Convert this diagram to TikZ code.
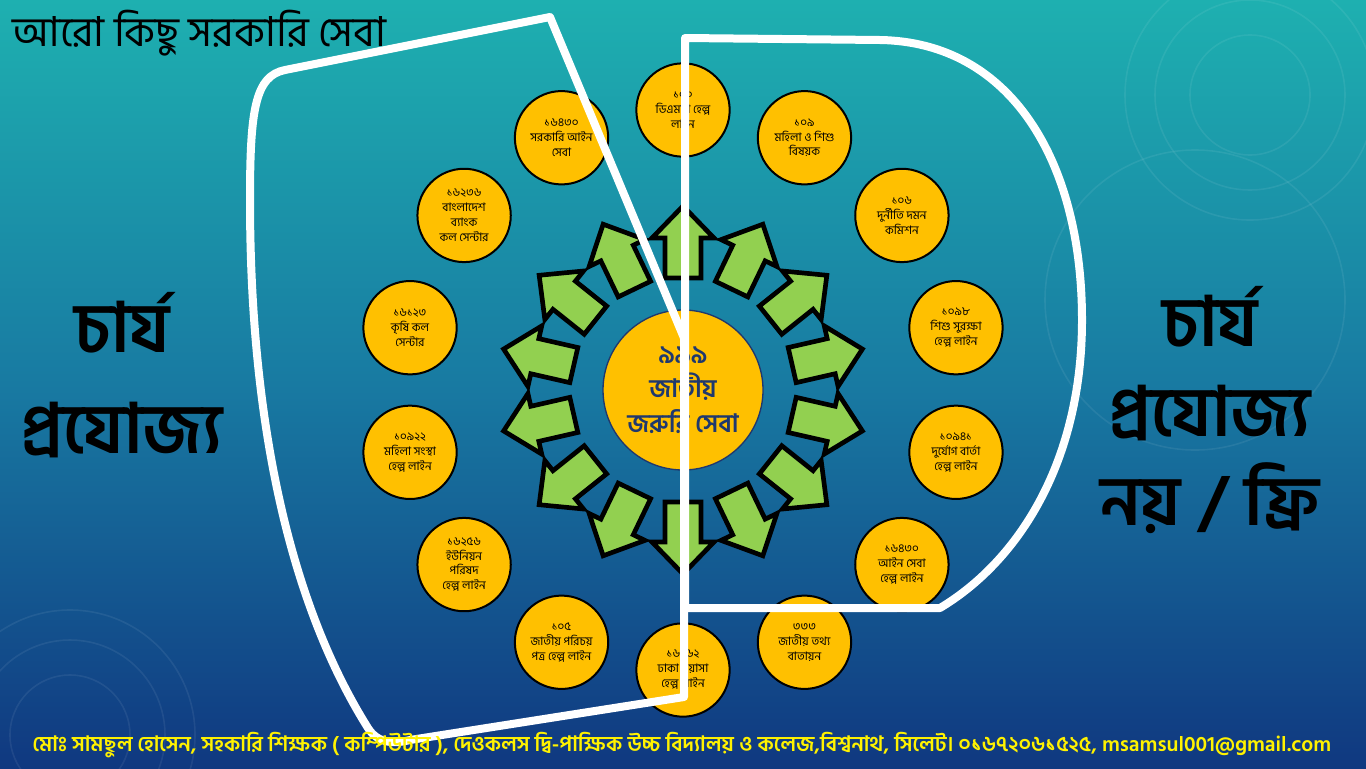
\documentclass[tikz,border=0pt]{standalone}
\usepackage{fontspec}
\setmainfont[Script=Bengali]{Hind Siliguri}
\usetikzlibrary{positioning}

\definecolor{bgtop}{RGB}{30,176,176}
\definecolor{bgmid}{RGB}{24,122,162}
\definecolor{bgbot}{RGB}{16,56,128}
\definecolor{gold}{RGB}{255,192,0}
\definecolor{leaf}{RGB}{146,208,80}
\definecolor{navy}{RGB}{31,56,110}

\begin{document}
\begin{tikzpicture}[
    x=0.75pt, y=-0.75pt,
    svc/.style={circle, draw=black, line width=1.5pt, fill=gold, minimum size=70pt,
                inner sep=0pt, align=center, font=\fontsize{8.8}{11.2}\selectfont},
    hub/.style={circle, draw=navy, line width=1pt, fill=gold, minimum size=120pt,
                inner sep=0pt, align=center, text=navy,
                font=\bfseries\fontsize{19}{26}\selectfont},
    blockarrow/.style={draw=black, fill=leaf, line width=3.5pt, line join=miter},
    outline/.style={draw=white, line width=6pt, line join=round, line cap=round},
    ring/.style={draw=white, opacity=0.07, line width=1.2pt},
    big/.style={font=\bfseries\fontsize{52}{76}\selectfont, align=center}
]
\useasboundingbox (0,0) rectangle (1366,768);

% background
\fill[top color=bgtop, bottom color=bgbot, middle color=bgmid] (0,0) rectangle (1366,768);
\foreach \r in {60,95,125} {
    \draw[ring] (1250,95) circle (\r);
    \draw[ring] (70,735) circle (\r);
}
\draw[ring] (1195,300) circle (150);

% title
\node[anchor=west, font=\fontsize{31}{36}\selectfont] (title) at (8,33) {আরো কিছু সরকারি সেবা};

% arrows round the hub
\foreach \k [evaluate=\k as \a using 90-\k*360/14] in {0,...,13} {
    \begin{scope}[shift={(683,390)}, rotate=\a]
        \draw[blockarrow] (112,-18) -- (152,-18) -- (152,-31) -- (184,0)
            -- (152,31) -- (152,18) -- (112,18) -- cycle;
    \end{scope}
}

% hub
\node[hub] (hub) at (683,390) {৯৯৯\\জাতীয়\\জরুরি সেবা};

% service circles, clockwise from the top
\foreach \k/\t [evaluate=\k as \a using 90-\k*360/14] in {
    0/{১০০\\ডিএমপি হেল্প\\লাইন},
    1/{১০৯\\মহিলা ও শিশু\\বিষয়ক},
    2/{১০৬\\দুর্নীতি দমন\\কমিশন},
    3/{১০৯৮\\শিশু সুরক্ষা\\হেল্প লাইন},
    4/{১০৯৪১\\দুর্যোগ বার্তা\\হেল্প লাইন},
    5/{১৬৪৩০\\আইন সেবা\\হেল্প লাইন},
    6/{৩৩৩\\জাতীয় তথ্য\\বাতায়ন},
    7/{১৬১৬২\\ঢাকা ওয়াসা\\হেল্প লাইন},
    8/{১০৫\\জাতীয় পরিচয়\\পত্র হেল্প লাইন},
    9/{১৬২৫৬\\ইউনিয়ন\\পরিষদ\\হেল্প লাইন},
    10/{১০৯২২\\মহিলা সংস্থা\\হেল্প লাইন},
    11/{১৬১২৩\\কৃষি কল\\সেন্টার},
    12/{১৬২৩৬\\বাংলাদেশ\\ব্যাংক\\কল সেন্টার},
    13/{১৬৪৩০\\সরকারি আইন\\সেবা}} {
    \node[svc] (s\k) at ({683+280*cos(\a)},{390-280*sin(\a)}) {\t};
}

% side labels
\node[big] (paid) at (122,375) {চার্য\\প্রযোজ্য};
\node[big, font=\bfseries\fontsize{52}{67}\selectfont] (free) at (1210,410) {চার্য\\প্রযোজ্য\\নয় / ফ্রি};

% white outlines
\draw[outline] (550,17) -- (285,70) .. controls (255,76) and (250,110) .. (250,200)
    .. controls (250,450) and (300,620) .. (368,728)
    .. controls (378,744) and (395,744) .. (410,740) -- (684,697) -- (684,338) -- cycle;
\draw[outline] (685,38) -- (880,40) .. controls (1010,42) and (1082,160) .. (1082,320)
    .. controls (1082,460) and (1020,560) .. (940,608) -- (685,608) -- cycle;

% footer
\node[text=yellow, anchor=west, font=\bfseries\fontsize{15.9}{18}\selectfont] (foot) at (28,745)
    {মোঃ সামছুল হোসেন, সহকারি শিক্ষক ( কম্পিউটার ), দেওকলস দ্বি-পাক্ষিক উচ্চ বিদ্যালয় ও কলেজ,বিশ্বনাথ, সিলেট। ০১৬৭২০৬১৫২৫, msamsul001@gmail.com};
\end{tikzpicture}
\end{document}
